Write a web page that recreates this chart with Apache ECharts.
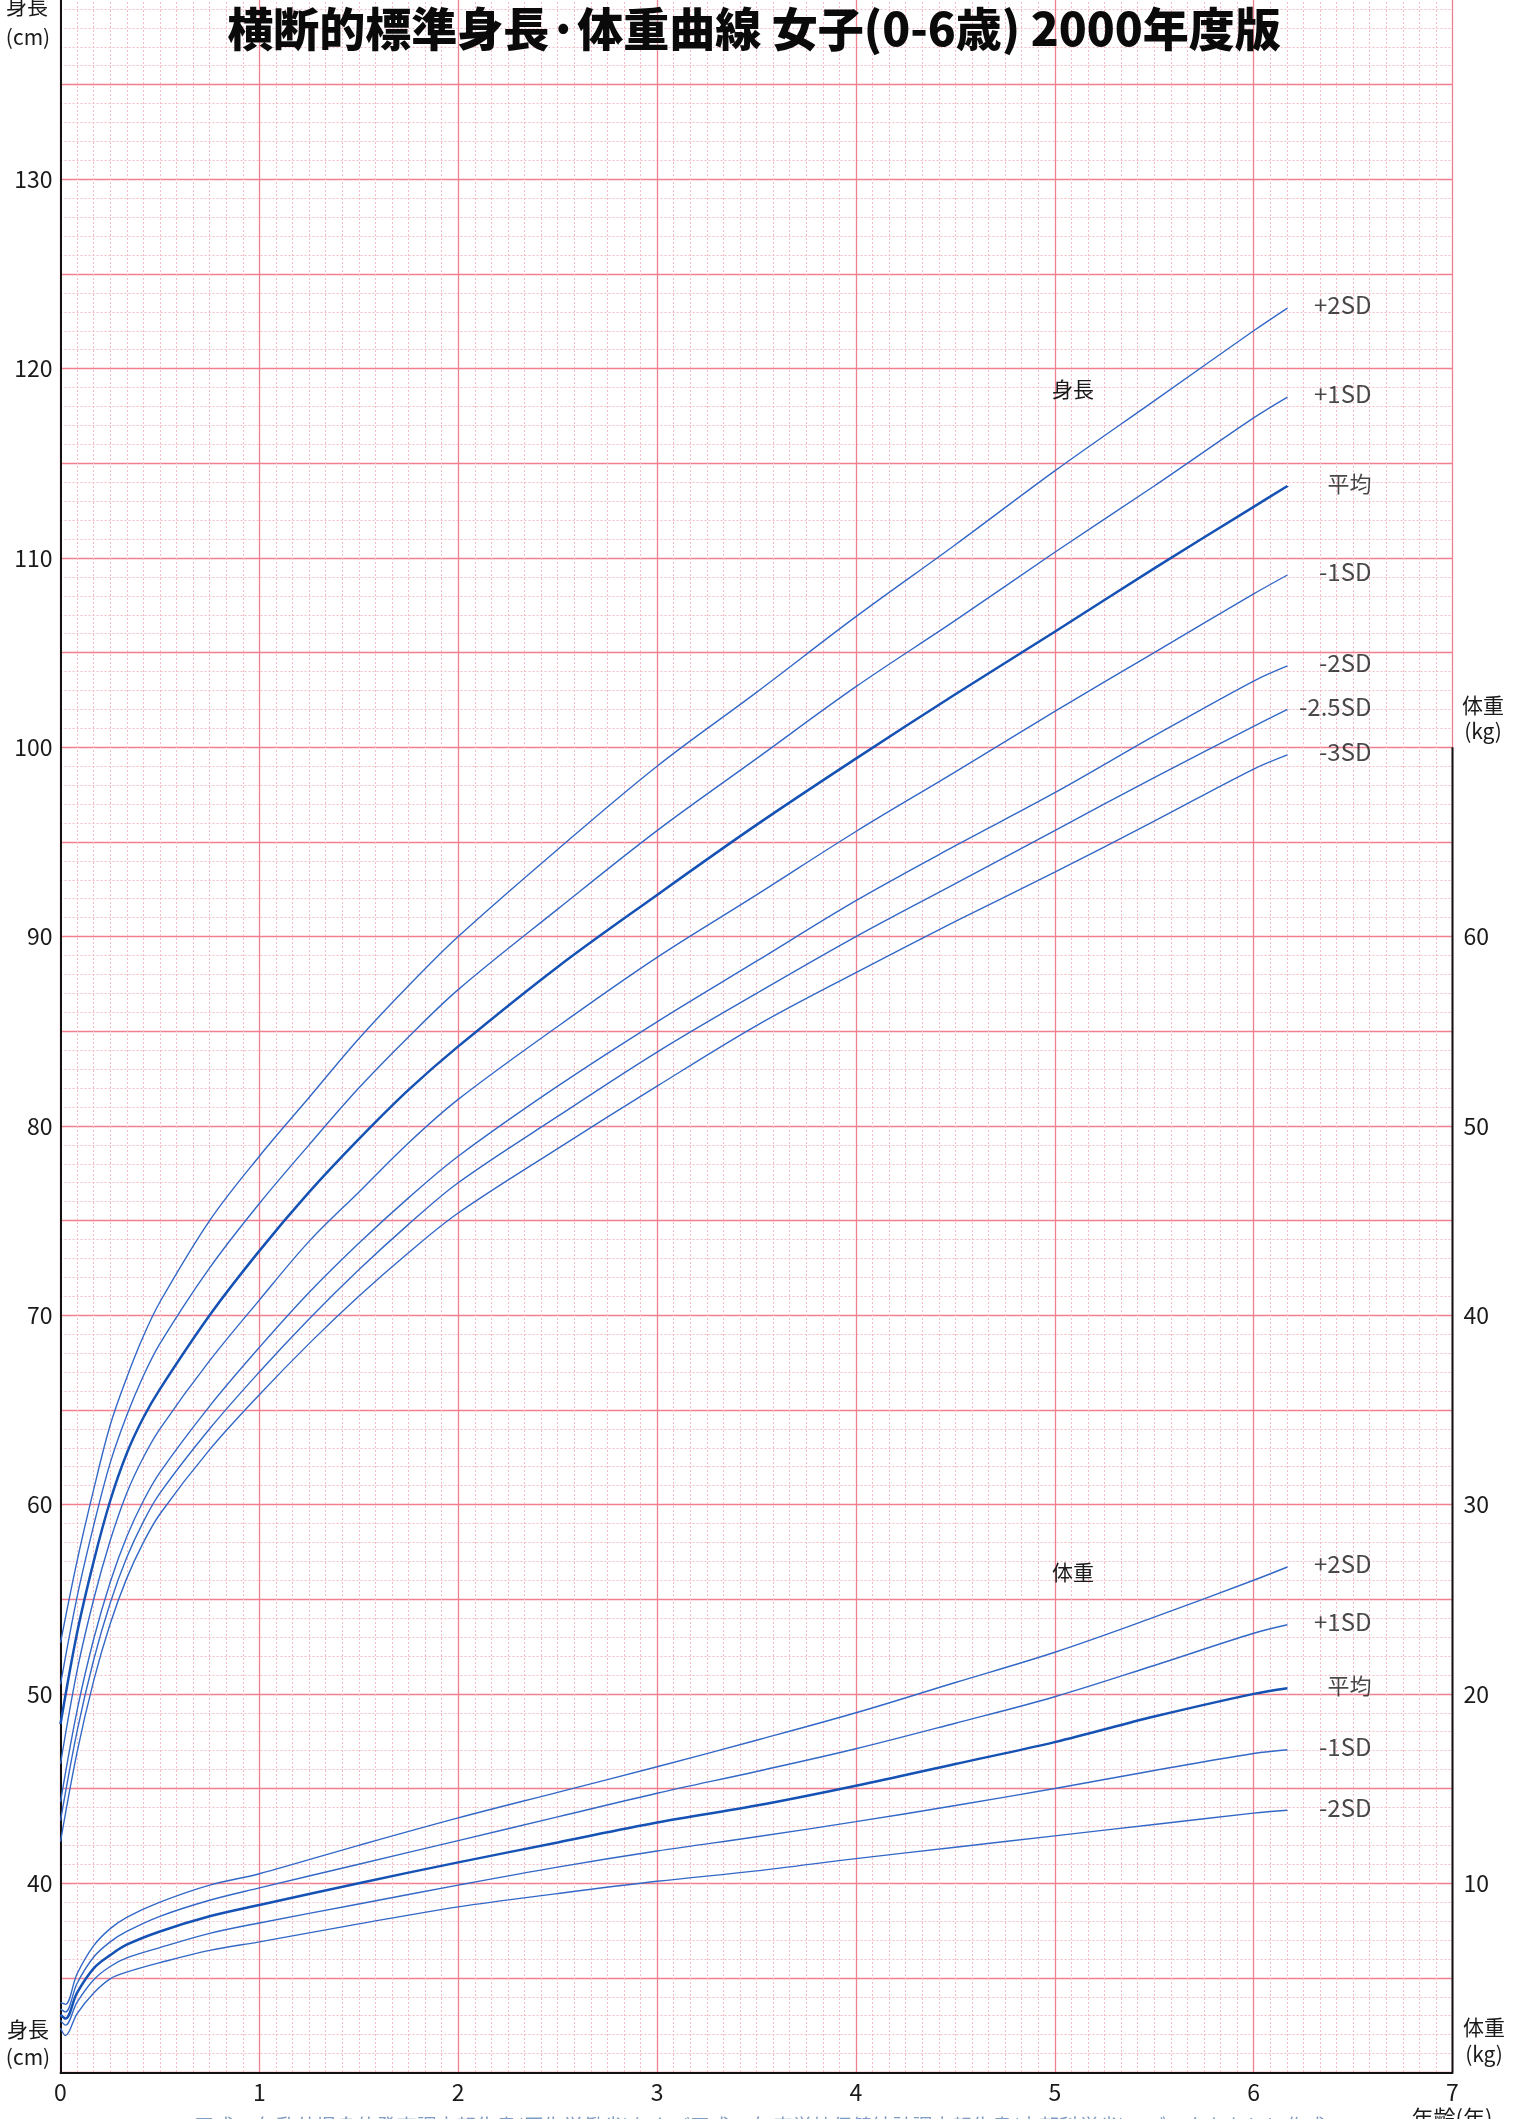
<!DOCTYPE html>
<html><head><meta charset="utf-8">
<script src="https://cdn.jsdelivr.net/npm/echarts@6/dist/echarts.min.js"></script>
<style>html,body{margin:0;padding:0;background:#fff;overflow:hidden}#wrap{position:relative;width:1520px;height:2119px;overflow:hidden}#c{position:absolute;left:0;top:-10px;width:1520px;height:2129px}</style>
</head><body><div id="wrap"><div id="c"></div></div>
<script>
// ---- data ----
const ageH = [0, 0.083, 0.167, 0.25, 0.333, 0.417, 0.5, 0.75, 1, 1.25, 1.5, 1.75, 2, 2.5, 3, 3.5, 4, 4.5, 5, 5.5, 6, 6.17];
const hP2  = [52.7, 57.0, 60.8, 64.2, 66.7, 68.9, 70.7, 75.0, 78.4, 81.5, 84.6, 87.4, 90.0, 94.6, 99.0, 102.9, 106.9, 110.7, 114.6, 118.3, 122.0, 123.2];
const hP1  = [50.5, 55.1, 58.9, 62.2, 64.7, 66.8, 68.5, 72.5, 75.9, 79.0, 82.0, 84.7, 87.2, 91.45, 95.6, 99.4, 103.2, 106.7, 110.3, 113.8, 117.4, 118.5];
const hM   = [48.4, 53.2, 57.0, 60.2, 62.7, 64.6, 66.1, 70.0, 73.4, 76.5, 79.3, 81.9, 84.2, 88.4, 92.2, 95.9, 99.4, 102.8, 106.1, 109.45, 112.7, 113.8];
const hM1  = [46.3, 51.2, 55.0, 58.1, 60.6, 62.5, 64.0, 67.6, 70.8, 73.9, 76.5, 79.1, 81.4, 85.25, 88.9, 92.2, 95.55, 98.7, 101.9, 105.0, 108.1, 109.1];
const hM2  = [44.3, 49.1, 52.9, 55.9, 58.3, 60.2, 61.7, 65.2, 68.3, 71.2, 73.8, 76.2, 78.4, 82.1, 85.5, 88.7, 91.9, 94.8, 97.6, 100.6, 103.5, 104.3];
const hM25 = [43.3, 48.0, 51.8, 54.8, 57.2, 59.1, 60.6, 64.0, 67.0, 69.8, 72.4, 74.8, 77.0, 80.5, 83.9, 87.0, 90.0, 92.8, 95.6, 98.4, 101.1, 102.0];
const hM3  = [42.2, 46.9, 50.7, 53.7, 56.1, 58.0, 59.5, 62.9, 65.8, 68.5, 71.0, 73.3, 75.4, 78.8, 82.1, 85.3, 88.1, 90.8, 93.4, 96.1, 98.85, 99.6];

const ageW = [0, 0.025, 0.083, 0.167, 0.25, 0.333, 0.5, 0.75, 1, 1.5, 2, 2.5, 3, 3.5, 4, 4.5, 5, 5.5, 6, 6.17];
const wP2 = [3.7, 3.6, 5.2, 6.7, 7.6, 8.2, 9.0, 9.9, 10.5, 12.0, 13.45, 14.8, 16.15, 17.55, 19.0, 20.6, 22.2, 24.05, 26.0, 26.7];
const wP1 = [3.35, 3.2, 4.7, 6.1, 6.9, 7.45, 8.25, 9.1, 9.75, 11.0, 12.25, 13.5, 14.75, 15.9, 17.1, 18.45, 19.85, 21.5, 23.2, 23.65];
const wM  = [3.05, 2.85, 4.2, 5.5, 6.2, 6.75, 7.45, 8.25, 8.85, 10.0, 11.1, 12.15, 13.2, 14.1, 15.15, 16.3, 17.45, 18.8, 20.0, 20.3];
const wM1 = [2.75, 2.5, 3.7, 4.9, 5.6, 6.05, 6.6, 7.35, 7.9, 8.9, 9.9, 10.85, 11.7, 12.45, 13.25, 14.1, 15.0, 15.95, 16.85, 17.05];
const wM2 = [2.35, 1.95, 3.1, 4.2, 4.95, 5.3, 5.8, 6.45, 6.9, 7.85, 8.75, 9.45, 10.1, 10.65, 11.3, 11.9, 12.5, 13.1, 13.7, 13.85];

const sdLabelsH = ['+2SD', '+1SD', '平均', '-1SD', '-2SD', '-2.5SD', '-3SD'];
const sdLabelsW = ['+2SD', '+1SD', '平均', '-1SD', '-2SD'];
const heightTickLabels = [40, 50, 60, 70, 80, 90, 100, 110, 120, 130];
const weightTickLabels = [10, 20, 30, 40, 50, 60];
const weightAxisTop = 70;
const labelAge = 6.595;

// ---- chart ----
const FONT = '"Noto Sans CJK JP", "Noto Sans", sans-serif';
const MAJOR = '#f0808f';
const MINOR = '#f6bcc5';
const LINE = '#3468c6';
const LINE_M = '#1552b4';
const OFF = 10; // container is shifted up by this many px

const hSeries = [hP2, hP1, hM, hM1, hM2, hM25, hM3];
const wSeries = [wP2, wP1, wM, wM1, wM2];

function lineSeries(ages, vals, axisIdx, isMean) {
  return {
    type: 'line', yAxisIndex: axisIdx, xAxisIndex: 0,
    data: ages.map((a, i) => [a, vals[i]]),
    smooth: 0.35, symbol: 'none', showSymbol: false,
    silent: true, z: 5,
    lineStyle: { color: isMean ? LINE_M : LINE, width: isMean ? 2.5 : 1.4 }
  };
}

const series = [];
hSeries.forEach((s, i) => series.push(lineSeries(ageH, s, 0, i === 2)));
wSeries.forEach((s, i) => series.push(lineSeries(ageW, s, 1, i === 2)));

const labelStyle = { show: true, position: 'left', distance: 0, fontFamily: FONT, color: '#1a1a1a',
  formatter: p => (/SD/.test(p.data[2]) ? '{a|' : '{j|') + p.data[2] + '}',
  rich: { a: { fontSize: 24, fontFamily: FONT, color: '#1a1a1a' }, j: { fontSize: 22, fontFamily: FONT, color: '#1a1a1a' } } };
series.push({
  type: 'scatter', yAxisIndex: 0, symbolSize: 1, itemStyle: { color: 'rgba(255,255,255,0)' }, silent: true, z: 20,
  data: hSeries.map((s, i) => [labelAge, s[s.length - 1] + 0.15, sdLabelsH[i]]),
  label: labelStyle
});
series.push({
  type: 'scatter', yAxisIndex: 1, symbolSize: 1, itemStyle: { color: 'rgba(255,255,255,0)' }, silent: true, z: 20,
  data: wSeries.map((s, i) => [labelAge, s[s.length - 1] + 0.15, sdLabelsW[i]]),
  label: labelStyle
});
// right (weight) axis line, only up to 70 kg
series.push({
  type: 'line', yAxisIndex: 1, data: [[7, 0], [7, weightAxisTop]], symbol: 'none', clip: false, silent: true, z: 6,
  lineStyle: { color: '#111', width: 2 }
});

function txt(x, y, text, size, extra) {
  return Object.assign({ type: 'text', x: x, y: y + OFF, silent: true, z: 50,
    style: Object.assign({ text: text, fontSize: size, fontFamily: FONT, fill: '#1a1a1a', align: 'center', verticalAlign: 'middle' }, extra || {}) });
}

const option = {
  backgroundColor: '#ffffff',
  animation: false,
  grid: { left: 60.5, right: 67.5, top: 0, bottom: 46.5, containLabel: false },
  xAxis: {
    type: 'value', min: 0, max: 7, interval: 1,
    axisLine: { show: true, onZero: false, lineStyle: { color: '#111', width: 2 } },
    axisTick: { show: false },
    axisLabel: { fontSize: 23, fontFamily: FONT, color: '#1a1a1a', margin: 8 },
    splitLine: { show: true, lineStyle: { color: MAJOR, width: 1.3 } },
    minorTick: { show: false, splitNumber: 12 },
    minorSplitLine: { show: true, lineStyle: { color: MINOR, width: 1, type: [2, 2] } }
  },
  yAxis: [{
    type: 'value', min: 30, max: 140, interval: 5, position: 'left',
    axisLine: { show: true, onZero: false, lineStyle: { color: '#111', width: 2 } },
    axisTick: { show: false },
    axisLabel: { fontSize: 23, fontFamily: FONT, color: '#1a1a1a', margin: 8,
      formatter: v => heightTickLabels.indexOf(v) >= 0 ? String(v) : '' },
    splitLine: { show: true, lineStyle: { color: MAJOR, width: 1.3 } },
    minorTick: { show: false, splitNumber: 5 },
    minorSplitLine: { show: true, lineStyle: { color: MINOR, width: 1, type: [2, 2] } }
  }, {
    type: 'value', min: 0, max: 110, interval: 10, position: 'right',
    axisLine: { show: false }, axisTick: { show: false }, splitLine: { show: false },
    axisLabel: { fontSize: 23, fontFamily: FONT, color: '#1a1a1a', margin: 11,
      formatter: v => weightTickLabels.indexOf(v) >= 0 ? String(v) : '' }
  }],
  series: series,
  graphic: [
    txt(754, 29, '横断的標準身長·体重曲線 女子(0-6歳) 2000年度版', 46, { fontWeight: 900, fill: '#0a0a0a' }),
    txt(27, 6, '身長', 21), txt(28, 37, '(cm)', 21),
    txt(28, 2029, '身長', 21), txt(28, 2057, '(cm)', 21),
    txt(1484, 2027, '体重', 21), txt(1484, 2054, '(kg)', 21),
    txt(1483, 705, '体重', 21), txt(1483, 731, '(kg)', 21),
    txt(1073, 389, '身長', 21), txt(1073, 1572, '体重', 21),
    txt(1452, 2118, '年齢(年)', 22),
    txt(760, 2126, '平成12年乳幼児身体発育調査報告書(厚生労働省)および平成12年度学校保健統計調査報告書(文部科学省)のデータをもとに作成', 20, { fill: '#7f9cc4' })
  ]
};

const chart = echarts.init(document.getElementById('c'), null, { renderer: 'canvas' });
chart.setOption(option);
</script>
</body></html>
